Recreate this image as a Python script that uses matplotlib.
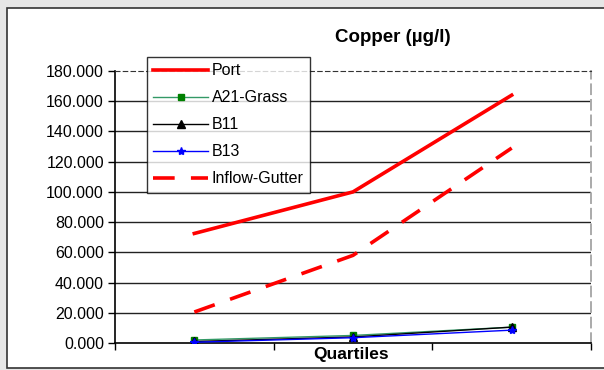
import matplotlib.pyplot as plt
from matplotlib.patches import Rectangle
from matplotlib.ticker import FormatStrFormatter
import numpy as np

plt.rcParams['font.family'] = ['Liberation Sans', 'DejaVu Sans']

# Copper concentration per quartile
quartiles = ['Q1', 'Q2', 'Q3']
port = [72.5, 100.0, 164.0]
a21_grass = [2.0, 5.0, 10.5]
b11 = [1.0, 4.0, 10.5]
b13 = [0.5, 3.5, 8.5]
inflow_gutter = [20.5, 58.0, 129.0]

y_ticks = [0, 20, 40, 60, 80, 100, 120, 140, 160, 180]

fig = plt.figure(figsize=(6.04, 3.70), dpi=100)
fig.patch.set_facecolor('#e6e6e6')

# white chart frame behind the axes
frame = Rectangle((7 / 604, 2 / 370), 1.0, 360 / 370, transform=fig.transFigure,
                  facecolor='white', edgecolor='#333333', linewidth=1.2, zorder=-5)
fig.patches.append(frame)

ax = fig.add_axes([115 / 604, 27 / 370, 476 / 604, 272 / 370])
ax.set_facecolor('white')
ax.set_zorder(1)

x = np.arange(len(quartiles)) + 0.5

for yv in y_ticks[1:-1]:
    ax.axhline(yv, color='#222222', linewidth=1.0, zorder=1)

ax.plot(x, port, color='#ff0000', linewidth=2.6, label='Port', zorder=3)
ax.plot(x, a21_grass, color='#339966', linewidth=1.0, marker='s', markersize=5,
        markerfacecolor='#008000', markeredgecolor='#008000', label='A21-Grass', zorder=3)
ax.plot(x, b11, color='#000000', linewidth=1.0, marker='^', markersize=6,
        label='B11', zorder=3)
ax.plot(x, b13, color='#0000ff', linewidth=1.0, marker='*', markersize=6,
        label='B13', zorder=3)
ax.plot(x, inflow_gutter, color='#ff0000', linewidth=2.6, linestyle=(0, (6, 4.5)),
        label='Inflow-Gutter', zorder=3)

ax.set_xlim(0, len(quartiles))
ax.set_ylim(0, 180)
ax.set_yticks(y_ticks)
ax.yaxis.set_major_formatter(FormatStrFormatter('%.3f'))
ax.set_xticks(np.arange(len(quartiles) + 1))
ax.set_xticklabels([])
ax.tick_params(axis='y', direction='out', length=5, width=1, labelsize=11.5, pad=3)
ax.tick_params(axis='x', direction='out', length=5, width=1)

for side in ['left', 'bottom']:
    ax.spines[side].set_color('black')
    ax.spines[side].set_linewidth(1.2)
ax.spines['top'].set_linestyle((0, (4, 3)))
ax.spines['top'].set_color('#333333')
ax.spines['right'].set_linestyle((0, (5, 3)))
ax.spines['right'].set_color('#aaaaaa')
ax.spines['right'].set_linewidth(1.4)

# axis title and chart title placed in figure coordinates
fig.text(351 / 604, 1 - 354 / 370, 'Quartiles', fontsize=12.5, fontweight='bold',
         ha='center', va='center')
fig.text(393 / 604, 1 - 38 / 370, 'Copper (µg/l)', fontsize=13.5, fontweight='bold',
         ha='center', va='center')

leg = ax.legend(loc='upper left', bbox_to_anchor=(32 / 476, 1 + 14 / 272),
                frameon=True, fancybox=False, edgecolor='black', fontsize=11.5,
                handlelength=3.4, handletextpad=0.25, labelspacing=0.75,
                borderpad=0.4, borderaxespad=0)
leg.get_frame().set_linewidth(1.0)
leg.set_zorder(5)

fig.savefig('out.png', dpi=100)
